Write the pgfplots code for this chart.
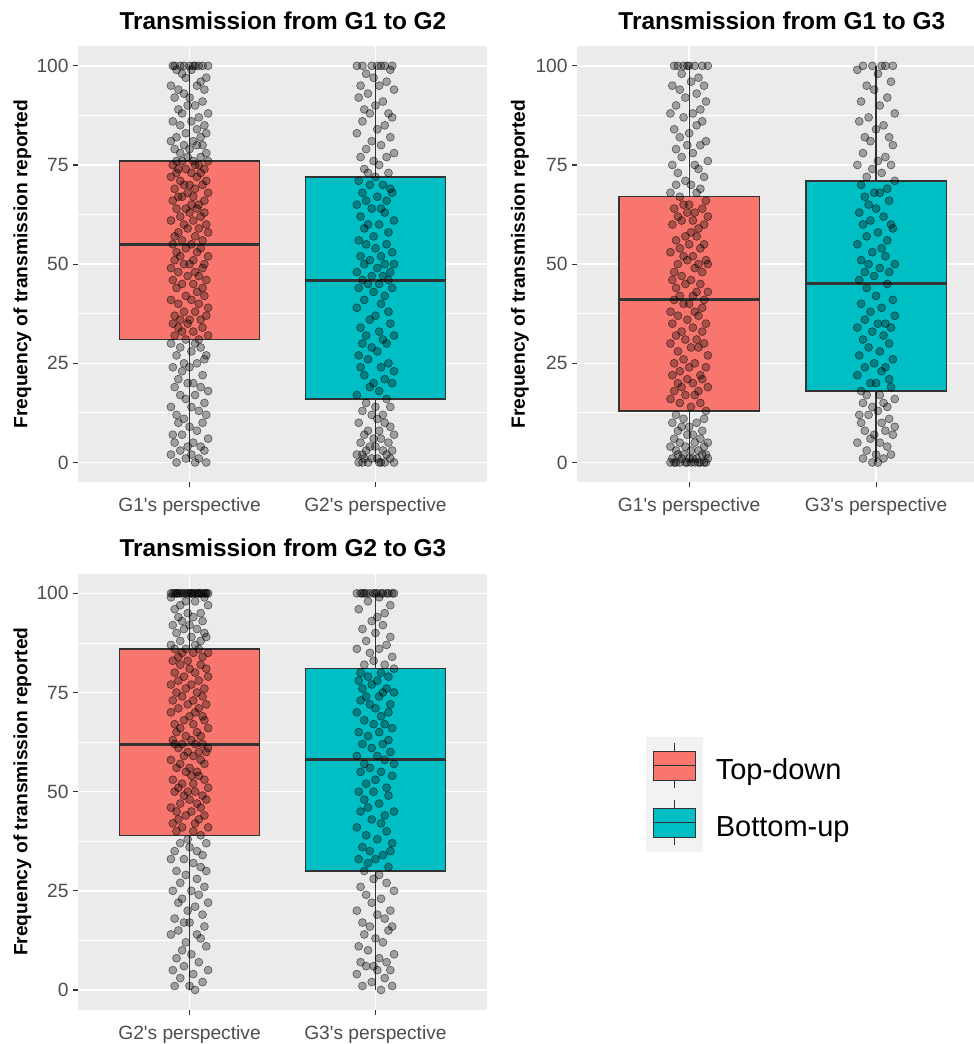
\documentclass[border=0pt]{standalone}
\usepackage{fontspec}
\setmainfont{Liberation Sans}[Ligatures=TeXOff]
\usepackage{pgfplots}
\usepackage{pgfplotstable}
\pgfplotsset{compat=1.18}
\usepgfplotslibrary{statistics}

\definecolor{tdred}{HTML}{F8766D}
\definecolor{buteal}{HTML}{00BFC4}
\definecolor{panelbg}{HTML}{EBEBEB}
\definecolor{keybg}{HTML}{F2F2F2}
\definecolor{edge}{HTML}{333333}
\definecolor{ticktxt}{HTML}{4D4D4D}

% Jittered responses: j = horizontal jitter, a..f = reported frequency
% a: G1->G2 (G1), b: G1->G2 (G2), c: G1->G3 (G1), d: G1->G3 (G3),
% e: G2->G3 (G2), f: G2->G3 (G3)
\pgfplotstableread{
j a b c d e f
0.03 0 100 0 100 100 0
-0.07 0 100 0 100 100 1
0.09 0 100 0 100 100 1
-0.02 1 100 0 100 100 2
0.05 1 100 0 100 100 3
-0.10 2 100 0 99 100 4
0.01 2 100 0 98 100 5
0.08 3 99 0 96 100 5
-0.05 3 98 0 95 100 6
-0.01 4 97 0 94 100 6
0.06 4 96 0 92 100 7
-0.08 5 95 0 91 100 7
0.02 5 95 1 90 100 8
0.10 6 94 1 88 100 9
-0.04 7 93 1 87 100 10
-0.09 7 92 1 86 100 11
0.04 8 91 1 85 100 12
0.00 9 90 1 84 100 13
-0.06 10 89 2 82 100 14
0.07 10 88 2 82 100 15
-0.03 11 88 2 81 100 16
0.09 12 87 2 80 100 16
-0.07 12 86 3 78 100 17
0.05 13 85 3 77 100 18
0.01 14 84 3 76 100 19
-0.10 14 83 4 75 99 20
0.08 15 82 4 75 99 20
-0.02 16 81 4 74 98 22
0.03 17 80 5 73 98 23
-0.05 17 79 5 72 97 24
0.10 18 78 5 71 97 25
-0.08 19 77 6 70 96 26
0.06 19 77 6 69 95 27
-0.01 20 76 7 68 95 28
0.02 20 75 7 68 94 29
-0.06 21 74 8 67 94 30
0.07 22 73 8 66 93 31
-0.04 23 73 9 65 93 32
0.00 24 72 9 64 92 33
-0.09 24 71 10 63 92 33
0.04 25 70 10 62 91 34
-0.03 25 70 11 61 91 35
0.08 26 69 11 60 90 35
-0.07 27 68 12 60 90 36
0.09 27 68 13 59 89 37
0.01 28 67 14 58 89 38
-0.05 29 66 15 57 88 39
0.06 29 66 15 56 88 40
-0.10 30 65 16 55 87 41
0.03 30 64 17 54 87 42
-0.02 31 64 17 53 86 43
0.05 31 63 18 52 86 44
-0.08 32 62 18 51 86 45
0.10 32 61 19 50 85 45
-0.04 33 60 19 50 85 46
0.02 33 60 20 49 85 47
-0.06 34 59 20 48 84 48
0.07 34 58 21 48 84 49
-0.01 35 57 21 47 83 50
-0.09 35 56 22 46 83 50
0.06 36 55 22 45 82 51
-0.05 36 55 23 44 82 52
0.00 36 54 24 42 81 53
0.09 37 53 24 41 81 54
-0.08 37 52 25 40 80 55
0.03 38 52 25 39 80 55
-0.03 38 51 26 38 79 56
0.10 39 50 27 37 79 57
-0.06 40 50 28 36 78 57
0.05 40 50 29 35 78 58
0.01 41 49 29 35 77 59
-0.10 41 48 30 34 77 59
0.08 42 48 30 34 76 60
-0.02 42 47 31 33 76 61
0.04 43 47 31 32 75 62
-0.07 44 46 32 31 75 62
0.07 44 46 33 30 74 63
-0.04 45 45 33 29 74 64
0.02 45 45 34 28 73 65
-0.09 46 44 35 27 73 65
0.09 46 44 35 26 72 66
-0.01 47 43 36 25 72 67
0.05 47 42 37 24 71 67
-0.06 48 41 37 24 71 68
0.03 48 40 38 23 70 69
-0.10 49 39 38 22 70 70
0.07 49 38 39 21 69 70
0.00 50 37 40 20 69 71
-0.03 50 36 40 20 68 72
0.08 50 35 41 19 68 72
-0.08 51 34 41 18 67 73
0.02 51 33 42 17 67 74
-0.05 52 32 42 17 66 74
0.10 52 32 43 16 66 75
0.04 53 31 43 15 65 75
-0.07 53 30 44 15 65 76
0.06 54 30 45 14 64 76
-0.02 54 29 45 14 64 77
0.01 55 28 46 13 63 78
-0.09 55 27 46 12 63 78
-0.04 56 26 47 12 62 79
0.07 56 25 48 11 62 79
-0.08 57 24 48 10 62 80
0.03 57 24 49 10 62 80
0.10 58 23 50 9 61 81
-0.06 58 22 50 8 61 82
0.05 59 21 50 8 60 82
-0.01 59 20 51 7 60 83
0.09 60 20 51 7 60 84
-0.03 60 19 52 6 59 85
0.02 61 18 52 5 59 86
-0.10 61 17 53 5 58 86
0.06 62 16 54 4 58 87
-0.05 62 15 54 3 57 88
0.08 63 14 55 2 57 89
0.00 63 14 55 2 56 90
-0.07 64 13 56 1 56 91
0.04 64 12 57 1 55 92
-0.02 64 12 57 0 55 93
0.01 65 11 58 0 54 94
0.05 65 10 59 nan 54 95
-0.09 66 10 60 nan 53 96
0.08 66 9 60 nan 53 97
-0.04 67 8 61 nan 52 98
0.02 67 8 61 nan 52 99
-0.06 67 7 62 nan 51 100
0.10 68 7 62 nan 51 100
-0.01 68 6 63 nan 50 100
0.03 69 6 63 nan 50 100
-0.08 69 5 64 nan 50 100
0.07 70 5 64 nan 49 100
-0.03 70 4 65 nan 49 100
0.00 70 4 65 nan 48 100
0.09 71 3 66 nan 48 100
-0.05 71 3 67 nan 47 100
0.04 72 3 68 nan 47 100
-0.10 72 2 68 nan 46 100
0.06 73 2 69 nan 46 100
-0.07 73 2 70 nan 45 100
0.01 73 1 70 nan 45 100
-0.02 74 1 71 nan 44 nan
0.08 74 1 72 nan 44 nan
-0.06 74 1 73 nan 43 nan
0.05 75 0 74 nan 43 nan
-0.09 75 0 75 nan 42 nan
0.03 75 0 75 nan 42 nan
0.10 76 0 76 nan 41 nan
-0.04 76 0 77 nan 41 nan
0.02 76 0 78 nan 40 nan
-0.07 76 0 79 nan 40 nan
0.06 77 nan 80 nan 39 nan
-0.01 77 nan 80 nan 38 nan
0.09 78 nan 81 nan 37 nan
-0.05 78 nan 82 nan 37 nan
0.00 79 nan 83 nan 36 nan
-0.08 79 nan 84 nan 35 nan
0.04 80 nan 85 nan 35 nan
0.07 80 nan 86 nan 34 nan
-0.03 80 nan 87 nan 33 nan
-0.10 81 nan 88 nan 33 nan
0.02 81 nan 88 nan 32 nan
0.06 82 nan 89 nan 31 nan
-0.07 82 nan 90 nan 30 nan
0.09 83 nan 91 nan 30 nan
-0.02 83 nan 92 nan 29 nan
0.04 84 nan 93 nan 28 nan
-0.05 85 nan 94 nan 27 nan
0.08 85 nan 95 nan 26 nan
-0.09 86 nan 95 nan 25 nan
0.01 86 nan 96 nan 25 nan
0.05 87 nan 97 nan 24 nan
-0.04 88 nan 98 nan 23 nan
0.10 88 nan 100 nan 22 nan
-0.06 89 nan 100 nan 22 nan
0.03 90 nan 100 nan 21 nan
-0.01 90 nan 100 nan 20 nan
0.07 91 nan 100 nan 19 nan
-0.08 92 nan 100 nan 18 nan
0.00 92 nan 100 nan 17 nan
-0.03 93 nan 100 nan 17 nan
0.08 94 nan nan nan 16 nan
-0.06 94 nan nan nan 15 nan
0.04 95 nan nan nan 14 nan
-0.10 95 nan nan nan 14 nan
0.06 96 nan nan nan 13 nan
-0.02 97 nan nan nan 12 nan
0.09 97 nan nan nan 11 nan
-0.04 98 nan nan nan 10 nan
0.01 99 nan nan nan 9 nan
-0.07 99 nan nan nan 8 nan
0.05 100 nan nan nan 7 nan
-0.03 100 nan nan nan 6 nan
0.10 100 nan nan nan 5 nan
-0.09 100 nan nan nan 5 nan
0.02 100 nan nan nan 4 nan
-0.05 100 nan nan nan 3 nan
0.07 100 nan nan nan 2 nan
0.00 100 nan nan nan 1 nan
-0.08 100 nan nan nan 1 nan
0.03 100 nan nan nan 0 nan
}\jitterdata

\pgfplotsset{
  panel/.style={
    scale only axis, width=204.5pt, height=218.15pt,
    xmin=0.4, xmax=2.6, ymin=-5, ymax=105,
    axis background/.style={fill=panelbg},
    axis line style={draw=none},
    xtick={1,2}, ytick={0,25,50,75,100},
    minor ytick={12.5,37.5,62.5,87.5},
    xtick pos=bottom, ytick pos=left,
    grid=both,
    major grid style={white, line width=0.75pt},
    minor grid style={white, line width=0.4pt},
    tick align=outside,
    major tick length=2.5pt, minor tick length=0pt,
    tick style={edge, line width=0.55pt},
    ticklabel style={font=\fontsize{9.6}{11}\selectfont, text=ticktxt},
    /pgf/number format/assume math mode=true,
    yticklabel style={anchor=east, inner sep=0pt, xshift=-2pt},
    xticklabel style={anchor=north, inner sep=0pt, yshift=-5pt},
    every axis title/.style={font=\bfseries\fontsize{12.2}{14}\selectfont,
      at={(axis description cs:0.501,1)}, anchor=base, yshift=8.5pt},
    ylabel={Frequency of transmission reported},
    ylabel style={font=\bfseries\fontsize{9.6}{11}\selectfont,
      at={(axis description cs:-0.1357,0.5)}, anchor=center},
    boxplot/draw direction=y,
    boxplot/every box/.style={draw=edge, line width=0.65pt},
    boxplot/every whisker/.style={draw=edge, line width=0.6pt},
    boxplot/every median/.style={draw=edge, line width=1.5pt},
  },
  pts/.style={only marks, mark=*, mark size=2pt, forget plot,
    mark options={fill=black, fill opacity=0.32, draw=black,
      draw opacity=0.55, line width=0.3pt}},
  keyimg/.style={legend image code/.code={
    \fill[keybg] (0pt,-14.125pt) rectangle (28pt,14.125pt);
    \draw[edge, line width=0.5pt] (14pt,-11.25pt) -- (14pt,11.25pt);
    \draw[edge, line width=0.5pt, fill=#1] (3.5pt,-7.25pt) rectangle (24.5pt,7.25pt);
    \draw[edge, line width=0.5pt] (3.5pt,0pt) -- (24.5pt,0pt);
  }},
}

\begin{document}
\begin{tikzpicture}
\useasboundingbox (0,0) rectangle (487pt,-522pt);

% Transmission from G1 to G2
\begin{axis}[panel, at={(39pt,-23pt)}, anchor=north west,
  title={Transmission from G1 to G2},
  xticklabels={G1's perspective, G2's perspective}]
\addplot[forget plot, fill=tdred, boxplot prepared={lower whisker=0, lower quartile=31,
  median=55, upper quartile=76, upper whisker=100, draw position=1,
  box extend=0.75, whisker extend=0}] coordinates {};
\addplot[forget plot, fill=buteal, boxplot prepared={lower whisker=0, lower quartile=16,
  median=46, upper quartile=72, upper whisker=100, draw position=2,
  box extend=0.75, whisker extend=0}] coordinates {};
\addplot[pts] table[x expr=1+\thisrow{j}, y=a] {\jitterdata};
\addplot[pts] table[x expr=2+\thisrow{j}, y=b] {\jitterdata};
\end{axis}

% Transmission from G1 to G3
\begin{axis}[panel, at={(288.5pt,-23pt)}, anchor=north west,
  width=198.5pt, xmax=2.524,
  title style={at={(axis description cs:0.516,1)}},
  ylabel style={at={(axis description cs:-0.1436,0.5)}},
  title={Transmission from G1 to G3},
  xticklabels={G1's perspective, G3's perspective}]
\addplot[forget plot, fill=tdred, boxplot prepared={lower whisker=0, lower quartile=13,
  median=41, upper quartile=67, upper whisker=100, draw position=1,
  box extend=0.75, whisker extend=0}] coordinates {};
\addplot[forget plot, fill=buteal, boxplot prepared={lower whisker=0, lower quartile=18,
  median=45, upper quartile=71, upper whisker=100, draw position=2,
  box extend=0.75, whisker extend=0}] coordinates {};
\addplot[pts] table[x expr=1+\thisrow{j}, y=c] {\jitterdata};
\addplot[pts] table[x expr=2+\thisrow{j}, y=d] {\jitterdata};
\end{axis}

% Transmission from G2 to G3, with the shared legend
\begin{axis}[panel, at={(39pt,-286.75pt)}, anchor=north west,
  title={Transmission from G2 to G3},
  xticklabels={G2's perspective, G3's perspective},
  legend style={at={(axis description cs:1.38875,0.62526)}, anchor=north west,
    draw=none, fill=none, inner sep=0pt, outer sep=0pt, row sep=0pt,
    font=\fontsize{14.5}{17}\selectfont,
    nodes={inner sep=0pt, outer sep=0pt},
    /tikz/every odd column/.style={column sep=6.5pt},
    /tikz/every even column/.style={yshift=-2.5pt}},
  legend cell align=left]
\addlegendimage{keyimg=tdred}
\addlegendentry{Top-down}
\addlegendimage{keyimg=buteal}
\addlegendentry{Bottom-up}
\addplot[forget plot, fill=tdred, boxplot prepared={lower whisker=0, lower quartile=39,
  median=62, upper quartile=86, upper whisker=100, draw position=1,
  box extend=0.75, whisker extend=0}] coordinates {};
\addplot[forget plot, fill=buteal, boxplot prepared={lower whisker=0, lower quartile=30,
  median=58, upper quartile=81, upper whisker=100, draw position=2,
  box extend=0.75, whisker extend=0}] coordinates {};
\addplot[pts] table[x expr=1+\thisrow{j}, y=e] {\jitterdata};
\addplot[pts] table[x expr=2+\thisrow{j}, y=f] {\jitterdata};
\end{axis}
\end{tikzpicture}
\end{document}
